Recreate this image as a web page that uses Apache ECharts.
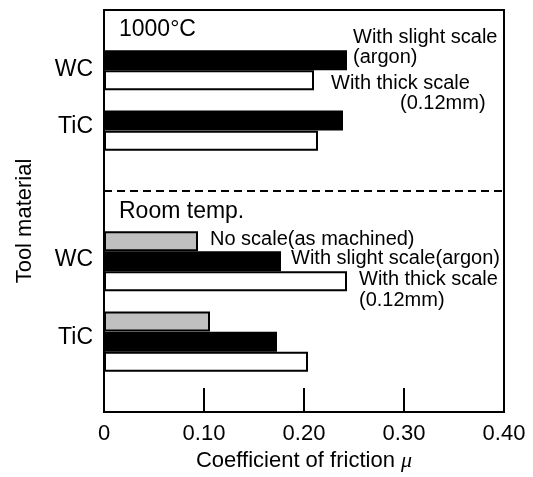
<!DOCTYPE html>
<html>
<head>
<meta charset="utf-8">
<script src="https://cdn.jsdelivr.net/npm/echarts@6/dist/echarts.min.js"></script>
<style>
  html, body { margin: 0; padding: 0; background: #fff; }
  #chart { width: 533px; height: 477px; }
</style>
</head>
<body>
<div id="chart"></div>
<script>
// Tool materials, in the order they are stacked within each section
const materials = ['WC', 'TiC'];

// Coefficient of friction at 1000°C
const hotSlightScale = [0.243, 0.239];   // with slight scale (argon)
const hotThickScale  = [0.210, 0.214];   // with thick scale (0.12 mm)

// Coefficient of friction at room temperature
const roomNoScale     = [0.094, 0.106];  // no scale (as machined)
const roomSlightScale = [0.177, 0.173];  // with slight scale (argon)
const roomThickScale  = [0.243, 0.204];  // with thick scale (0.12 mm)

// Friction axis ticks
const frictionTicks = [0, 0.10, 0.20, 0.30, 0.40];

const FONT = '"Liberation Sans", Arial, sans-serif';

// Row slots on the category axis (top to bottom)
const ROW_COUNT = 20;
const rows = Array.from({ length: ROW_COUNT }, (_, i) => 'row' + i);
const rowMaterial = {};
const hotStart = 2, hotStride = 3;      // 1000°C block: slight, thick
const roomStart = 11, roomStride = 4;   // room temp block: none, slight, thick
const SECTION_SPLIT = 9;                 // first row of the room-temperature block

const blackData = new Array(ROW_COUNT).fill('-');
const whiteData = new Array(ROW_COUNT).fill('-');
const grayData = new Array(ROW_COUNT).fill('-');

const textLabel = (formatter, distance, offsetY, extra) => Object.assign({
  show: true, position: 'right', distance: distance, offset: [0, offsetY],
  formatter: formatter, color: '#000', fontFamily: FONT, fontSize: 20, lineHeight: 20
}, extra || {});

materials.forEach((m, k) => {
  const h = hotStart + hotStride * k;
  rowMaterial[h] = { name: m, key: 'h' + k };
  blackData[h] = { value: hotSlightScale[k] };
  whiteData[h + 1] = { value: hotThickScale[k] };

  const r = roomStart + roomStride * k;
  rowMaterial[r + 1] = { name: m, key: 'r' + k };
  grayData[r] = { value: roomNoScale[k] };
  blackData[r + 1] = { value: roomSlightScale[k] };
  whiteData[r + 2] = { value: roomThickScale[k] };
});

// Condition notes beside the WC bars
blackData[hotStart].label = textLabel('With slight scale\n(argon)', 6, -13);
whiteData[hotStart + 1].label = textLabel('{a|With thick scale}\n{b|(0.12mm)}', 17, 13, {
  rich: { a: { fontSize: 20, fontFamily: FONT, lineHeight: 20 },
          b: { fontSize: 20, fontFamily: FONT, lineHeight: 20, padding: [0, 0, 0, 69] } }
});
grayData[roomStart].label = textLabel('No scale(as machined)', 12, -2);
blackData[roomStart + 1].label = textLabel('With slight scale(argon)', 10, -3);
whiteData[roomStart + 2].label = textLabel('With thick scale\n(0.12mm)', 12, 9, { lineHeight: 21 });

const chart = echarts.init(document.getElementById('chart'), null, { renderer: 'canvas' });

const barBase = { type: 'bar', barWidth: 20, barGap: '-100%', animation: false, z: 3 };
const labelStyle = { color: '#000', fontFamily: FONT, fontSize: 23 };

chart.setOption({
  backgroundColor: '#fff',
  animation: false,
  grid: {
    left: 104, right: 29, top: 10, bottom: 65,
    show: true, borderColor: '#000', borderWidth: 2, backgroundColor: 'transparent'
  },
  xAxis: {
    type: 'value',
    min: frictionTicks[0],
    max: frictionTicks[frictionTicks.length - 1],
    interval: 0.1,
    position: 'bottom',
    axisLine: { show: false, onZero: false },
    axisTick: { show: true, inside: true, length: 24, lineStyle: { color: '#000', width: 2 } },
    splitLine: { show: false },
    axisLabel: {
      color: '#000', fontFamily: FONT, fontSize: 22, margin: 11,
      formatter: v => (v === 0 ? '0' : v.toFixed(2))
    },
    name: 'Coefficient of friction {m|μ}',
    nameLocation: 'middle',
    nameGap: 34,
    nameTextStyle: {
      color: '#000', fontFamily: FONT, fontSize: 22,
      rich: { m: { fontFamily: '"Liberation Serif", serif', fontStyle: 'italic', fontSize: 22, color: '#000' } }
    }
  },
  yAxis: [
    {
      type: 'category',
      data: rows,
      inverse: true,
      axisLine: { show: false, onZero: false },
      axisTick: { show: false },
      splitLine: { show: false },
      axisLabel: {
        interval: 0,
        margin: 11,
        formatter: (v, i) => rowMaterial[i] ? '{' + rowMaterial[i].key + '|' + rowMaterial[i].name + '}' : '',
        rich: {
          h0: Object.assign({ padding: [19, 0, 0, 0] }, labelStyle),
          h1: Object.assign({ padding: [13, 0, 0, 0] }, labelStyle),
          r0: Object.assign({ padding: [0, 0, 4, 0] }, labelStyle),
          r1: Object.assign({ padding: [0, 0, 7, 0] }, labelStyle)
        }
      },
      name: 'Tool material',
      nameLocation: 'middle',
      nameGap: 68,
      nameRotate: 90,
      nameTextStyle: { color: '#000', fontFamily: FONT, fontSize: 22, padding: [0, 20, 0, 0] }
    },
    {
      // row-boundary scale used for the dashed divider between the two sections
      type: 'value', min: 0, max: ROW_COUNT, inverse: true, show: false,
      position: 'right', axisLine: { onZero: false }
    }
  ],
  graphic: [
    { type: 'text', left: 119, top: 18, z: 10,
      style: { text: '1000°C', fill: '#000', font: '23px ' + FONT } },
    { type: 'text', left: 119, top: 200, z: 10,
      style: { text: 'Room temp.', fill: '#000', font: '23px ' + FONT } }
  ],
  series: [
    Object.assign({}, barBase, {
      name: 'No scale (as machined)', data: grayData,
      itemStyle: { color: '#c0c0c0', borderColor: '#000', borderWidth: 2 }
    }),
    Object.assign({}, barBase, {
      name: 'With slight scale (argon)', data: blackData,
      itemStyle: { color: '#000', borderColor: '#000', borderWidth: 2 }
    }),
    Object.assign({}, barBase, {
      name: 'With thick scale (0.12mm)', data: whiteData,
      itemStyle: { color: '#fff', borderColor: '#000', borderWidth: 2 }
    }),
    {
      name: 'section divider',
      type: 'line',
      yAxisIndex: 1,
      data: [[frictionTicks[0], SECTION_SPLIT], [frictionTicks[frictionTicks.length - 1], SECTION_SPLIT]],
      symbol: 'none',
      silent: true,
      z: 4,
      lineStyle: { color: '#000', width: 2, type: [8, 5] }
    }
  ]
});
</script>
</body>
</html>
